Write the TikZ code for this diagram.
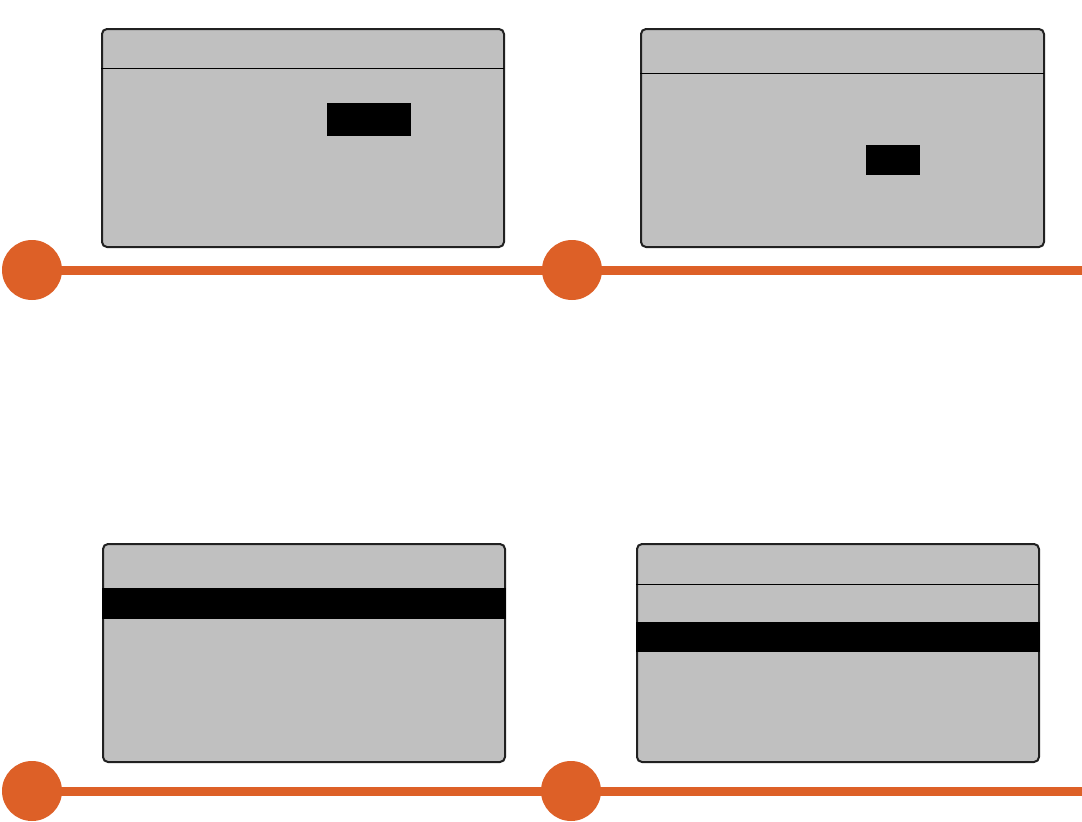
\documentclass[tikz,border=0pt]{standalone}
\usetikzlibrary{backgrounds}
\begin{document}
\begin{tikzpicture}[x=1pt,y=-1pt,
  screen/.style={draw=black!87,line width=2pt,fill=lcdgray,rounded corners=5pt,inner sep=0pt,outer sep=0pt,anchor=north west},
  dot/.style={circle,fill=tlorange,minimum size=60pt,inner sep=0pt},
  track/.style={draw=tlorange,line width=9pt},
  rule/.style={draw=black,line width=1pt},
  bar/.style={fill=black}]
\definecolor{lcdgray}{HTML}{C0C0C0}
\definecolor{tlorange}{HTML}{DD6027}
\useasboundingbox (0,0) rectangle (1082,822);
% screens
\node[screen,minimum width=402pt,minimum height=218pt] (s1) at (102,29) {};
\node[screen,minimum width=403pt,minimum height=218pt] (s2) at (641,29) {};
\node[screen,minimum width=402pt,minimum height=218pt] (s3) at (103,544) {};
\node[screen,minimum width=402pt,minimum height=218pt] (s4) at (637,544) {};
% screen contents
\draw[rule] (101,68) -- (504,68);
\fill[bar] (327,103) rectangle (411,136);
\draw[rule] (640,73) -- (1044,73);
\fill[bar] (866,145) rectangle (920,175);
\fill[bar] (102,588) rectangle (506,619);
\draw[rule] (636,584) -- (1039,584);
\fill[bar] (636,622) rectangle (1040,652);
% timelines
\coordinate (e1) at (1082,270);
\coordinate (e2) at (1082,791);
\node[dot] (c1) at (32,270) {};
\node[dot] (c2) at (572,270) {};
\node[dot] (c3) at (32,791) {};
\node[dot] (c4) at (571,791) {};
\begin{pgfonlayer}{background}
\draw[track] (c1.center) -- (e1);
\draw[track] (c3.center) -- (e2);
\end{pgfonlayer}
\end{tikzpicture}
\end{document}
